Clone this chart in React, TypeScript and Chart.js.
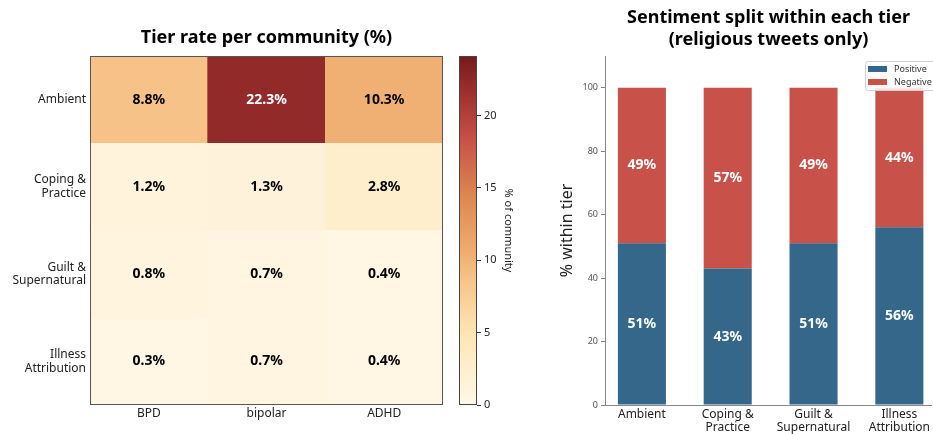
import React, { useEffect, useRef } from 'react';
import { Chart, registerables } from 'chart.js';
Chart.register(...registerables);

// ---------- data ----------
const communities = ['BPD', 'bipolar', 'ADHD'];
const tiers = ['Ambient', 'Coping &\nPractice', 'Guilt &\nSupernatural', 'Illness\nAttribution'];
const ambientRates = [8.8, 22.3, 10.3];
const copingRates = [1.2, 1.3, 2.8];
const guiltRates = [0.8, 0.7, 0.4];
const illnessRates = [0.3, 0.7, 0.4];
const tierRates = [ambientRates, copingRates, guiltRates, illnessRates];
const colorbarMax = 24.1;
const colorbarTicks = [0, 5, 10, 15, 20];

const sentimentCategories = ['Ambient', 'Coping &\nPractice', 'Guilt &\nSupernatural', 'Illness\nAttribution'];
const positiveShare = [51, 43, 51, 56];
const negativeShare = [49, 57, 49, 44];
const yTicksRight = [0, 20, 40, 60, 80, 100];

// ---------- colormap ----------
const cmapStops: [number, string][] = [
  [0, '#fff8e7'],
  [0.2, '#fde6b6'],
  [0.35, '#f7c68c'],
  [0.45, '#eeaa6c'],
  [0.6, '#dc8750'],
  [0.75, '#c9544a'],
  [0.9, '#9c2f2d'],
  [1, '#731a1c'],
];
function hexToRgb(h: string) {
  return [parseInt(h.slice(1, 3), 16), parseInt(h.slice(3, 5), 16), parseInt(h.slice(5, 7), 16)];
}
function cmap(t: number) {
  t = Math.max(0, Math.min(1, t));
  for (let i = 1; i < cmapStops.length; i++) {
    const [t1, c1] = cmapStops[i];
    const [t0, c0] = cmapStops[i - 1];
    if (t <= t1) {
      const f = (t - t0) / (t1 - t0);
      const a = hexToRgb(c0), b = hexToRgb(c1);
      const c = a.map((v, k) => Math.round(v + (b[k] - v) * f));
      return `rgb(${c[0]},${c[1]},${c[2]})`;
    }
  }
  return cmapStops[cmapStops.length - 1][1];
}

const FONT = '"Noto Sans", "DejaVu Sans", sans-serif';

export default function App() {
  const heatRef = useRef<HTMLCanvasElement>(null);
  const cbRef = useRef<HTMLCanvasElement>(null);
  const barRef = useRef<HTMLCanvasElement>(null);

  useEffect(() => {
    Chart.defaults.font.family = FONT;

    // ---------- heatmap ----------
    const heatDatasets = tiers
      .map((t, ti) => ({
        label: t,
        data: communities.map(() => 1),
        backgroundColor: tierRates[ti].map((v) => cmap(v / colorbarMax)),
        borderWidth: 0,
      }))
      .reverse();

    const heat = new Chart(heatRef.current!, {
      type: 'bar',
      data: { labels: communities, datasets: heatDatasets },
      options: {
        animation: false,
        responsive: false,
        layout: { padding: { top: 56, right: 12, left: 0, bottom: 0 } },
        datasets: { bar: { barPercentage: 1, categoryPercentage: 1 } } as any,
        plugins: { legend: { display: false }, tooltip: { enabled: false } },
        scales: {
          x: {
            type: 'category',
            stacked: true,
            offset: true,
            grid: { display: false, drawTicks: false, tickLength: 0 },
            border: { display: false },
            ticks: { font: { size: 12, family: FONT }, color: '#222', padding: 1, maxRotation: 0 },
            afterFit: (s: any) => { s.height = 29; },
          },
          y: { type: 'linear', stacked: true, min: 0, max: 4, display: false },
          tierAxis: {
            type: 'category',
            labels: tiers.map((t) => t.split('\n')) as any,
            position: 'left',
            offset: true,
            grid: { display: false, drawTicks: false, tickLength: 0 },
            border: { display: false },
            ticks: { font: { size: 12, family: FONT, lineHeight: 1.15 }, color: '#222', padding: 4 },
            afterFit: (s: any) => { s.width = 90; },
          },
        } as any,
      },
      plugins: [
        {
          id: 'heatExtras',
          afterDatasetsDraw(chart: any) {
            const ctx = chart.ctx;
            ctx.save();
            ctx.font = `bold 14px ${FONT}`;
            ctx.textAlign = 'center';
            ctx.textBaseline = 'middle';
            chart.data.datasets.forEach((ds: any, d: number) => {
              const ti = tiers.length - 1 - d;
              chart.getDatasetMeta(d).data.forEach((el: any, j: number) => {
                const v = tierRates[ti][j];
                const p = el.getProps(['x', 'y', 'base'], true);
                ctx.fillStyle = v / colorbarMax > 0.6 ? '#ffffff' : '#000000';
                ctx.fillText(v.toFixed(1) + '%', p.x, (p.y + p.base) / 2);
              });
            });
            const a = chart.chartArea;
            ctx.strokeStyle = '#555';
            ctx.lineWidth = 1;
            ctx.strokeRect(Math.round(a.left) + 0.5, Math.round(a.top) + 0.5, Math.round(a.right - a.left) - 1, Math.round(a.bottom - a.top) - 1);
            ctx.fillStyle = '#000';
            ctx.font = `bold 18px ${FONT}`;
            ctx.fillText('Tier rate per community (%)', (a.left + a.right) / 2, 38);
            ctx.restore();
          },
        },
      ],
    });

    // ---------- colorbar ----------
    const cb = new Chart(cbRef.current!, {
      type: 'bar',
      data: {
        labels: [''],
        datasets: [
          {
            data: [colorbarMax],
            borderWidth: 0,
            backgroundColor: (c: any) => {
              const a = c.chart.chartArea;
              if (!a) return '#fff';
              const g = c.chart.ctx.createLinearGradient(0, a.bottom, 0, a.top);
              cmapStops.forEach(([t, col]) => g.addColorStop(t, col));
              return g;
            },
          },
        ],
      },
      options: {
        animation: false,
        responsive: false,
        layout: { padding: { top: 56, right: 0, left: 0, bottom: 29 } },
        datasets: { bar: { barPercentage: 1, categoryPercentage: 1 } } as any,
        plugins: { legend: { display: false }, tooltip: { enabled: false } },
        scales: {
          x: { display: false },
          y: {
            position: 'right',
            min: 0,
            max: colorbarMax,
            afterBuildTicks: (s: any) => { s.ticks = colorbarTicks.map((v) => ({ value: v })); },
            ticks: { font: { size: 11, family: FONT }, color: '#222', padding: 3 },
            grid: { drawOnChartArea: false, tickLength: 4, color: '#333' },
            border: { display: false },
            title: { display: true, text: '% of community', font: { size: 11, family: FONT }, color: '#222', padding: { top: 4, bottom: 4 } },
            afterFit: (s: any) => { s.width = 42; },
          },
        } as any,
      },
      plugins: [
        {
          id: 'cbOutline',
          afterDatasetsDraw(chart: any) {
            const a = chart.chartArea;
            const ctx = chart.ctx;
            ctx.save();
            ctx.strokeStyle = '#444';
            ctx.lineWidth = 1;
            ctx.strokeRect(Math.round(a.left) + 0.5, Math.round(a.top) + 0.5, Math.round(a.right - a.left) - 1, Math.round(a.bottom - a.top) - 1);
            ctx.restore();
          },
        },
      ],
    });

    // ---------- stacked sentiment bars ----------
    const posColor = '#34678a';
    const negColor = '#c8524a';
    const bar = new Chart(barRef.current!, {
      type: 'bar',
      data: {
        datasets: [
          { label: 'Positive', data: positiveShare.map((v, i) => ({ x: i, y: v })), backgroundColor: posColor, borderWidth: 0 },
          { label: 'Negative', data: negativeShare.map((v, i) => ({ x: i, y: v })), backgroundColor: negColor, borderWidth: 0 },
        ],
      },
      options: {
        animation: false,
        responsive: false,
        layout: { padding: { top: 56, right: 0, left: 0, bottom: 0 } },
        datasets: { bar: { barPercentage: 0.56, categoryPercentage: 1 } } as any,
        plugins: { legend: { display: false }, tooltip: { enabled: false } },
        scales: {
          x: {
            type: 'linear',
            stacked: true,
            offset: false,
            min: -0.43,
            max: 3.38,
            afterBuildTicks: (s: any) => { s.ticks = sentimentCategories.map((_, i) => ({ value: i })); },
            ticks: {
              autoSkip: false,
              maxRotation: 0,
              font: { size: 12, family: FONT, lineHeight: 1.1 },
              color: '#222',
              padding: 3,
              callback: (v: any) => sentimentCategories[Math.round(v)].split('\n'),
            },
            grid: { drawOnChartArea: false, drawTicks: false, tickLength: 0, offset: false },
            border: { color: '#888' },
            afterFit: (s: any) => { s.height = 29; },
          },
          y: {
            stacked: true,
            min: 0,
            max: 110,
            afterBuildTicks: (s: any) => { s.ticks = yTicksRight.map((v) => ({ value: v })); },
            ticks: { font: { size: 9, family: FONT }, color: '#555', padding: 3 },
            grid: { drawOnChartArea: false, tickLength: 4, color: '#888' },
            border: { color: '#888' },
            title: { display: true, text: '% within tier', font: { size: 16, family: FONT }, color: '#222', padding: { top: 18, bottom: 0 } },
            afterFit: (s: any) => { s.width = 65; },
          },
        } as any,
      },
      plugins: [
        {
          id: 'barExtras',
          afterDatasetsDraw(chart: any) {
            const ctx = chart.ctx;
            ctx.save();
            ctx.font = `bold 14px ${FONT}`;
            ctx.textAlign = 'center';
            ctx.textBaseline = 'middle';
            ctx.fillStyle = '#ffffff';
            const series = [positiveShare, negativeShare];
            chart.data.datasets.forEach((ds: any, d: number) => {
              chart.getDatasetMeta(d).data.forEach((el: any, j: number) => {
                const p = el.getProps(['x', 'y', 'base'], true);
                ctx.fillText(series[d][j] + '%', p.x, (p.y + p.base) / 2);
              });
            });
            const a = chart.chartArea;
            ctx.fillStyle = '#000';
            ctx.font = `bold 18px ${FONT}`;
            const cx = (a.left + a.right) / 2;
            ctx.fillText('Sentiment split within each tier', cx, 18);
            ctx.fillText('(religious tweets only)', cx, 40);

            // legend
            const lx = 325, ly = 61, lw = 75, lh = 29;
            ctx.beginPath();
            (ctx as any).roundRect(lx + 0.5, ly + 0.5, lw, lh, 3);
            ctx.fillStyle = 'rgba(255,255,255,0.85)';
            ctx.fill();
            ctx.strokeStyle = '#d0d0d0';
            ctx.lineWidth = 1;
            ctx.stroke();
            const entries = [['Positive', posColor], ['Negative', negColor]];
            ctx.font = `9px ${FONT}`;
            ctx.textAlign = 'left';
            entries.forEach(([name, col], i) => {
              const yy = ly + 8 + i * 13;
              ctx.fillStyle = col;
              ctx.fillRect(lx + 3, yy - 3, 19, 6);
              ctx.fillStyle = '#333';
              ctx.fillText(name, lx + 29, yy);
            });
            ctx.restore();
          },
        },
      ],
    });

    return () => {
      heat.destroy();
      cb.destroy();
      bar.destroy();
    };
  }, []);

  return (
    <div style={{ position: 'fixed', left: 0, top: 0, width: 933, height: 434, background: '#fff', overflow: 'hidden' }}>
      <canvas ref={heatRef} width={455} height={434} style={{ position: 'absolute', left: 0, top: 0 }} />
      <canvas ref={cbRef} width={60} height={434} style={{ position: 'absolute', left: 459, top: 0 }} />
      <canvas ref={barRef} width={393} height={434} style={{ position: 'absolute', left: 540, top: 0 }} />
    </div>
  );
}
